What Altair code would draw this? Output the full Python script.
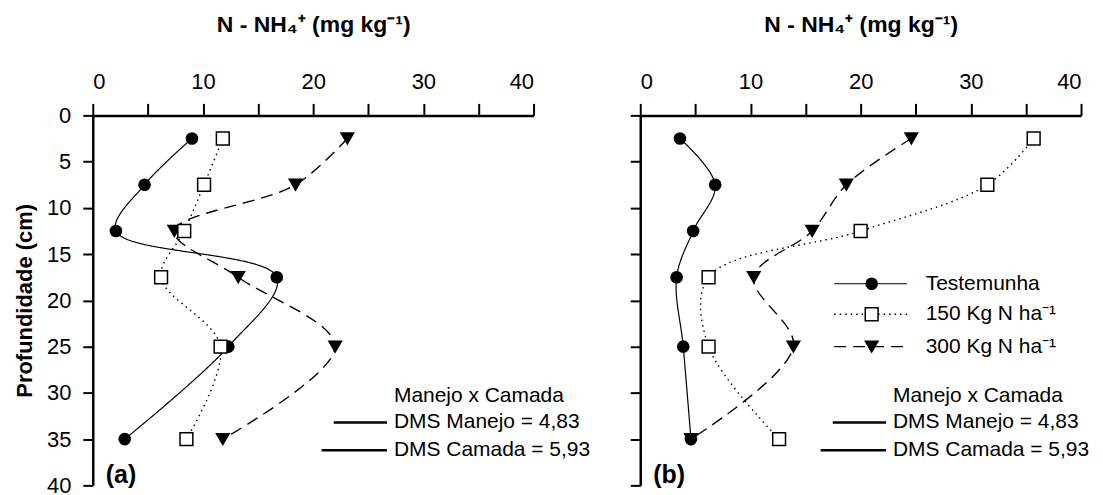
import altair as alt
import pandas as pd

# ---- data ----
depth = [2.5, 7.5, 12.5, 17.5, 25, 35]
series = ["Testemunha", "150 Kg N ha⁻¹", "300 Kg N ha⁻¹"]

a_test = [9.0, 4.7, 2.1, 16.7, 12.3, 2.9]
a_150 = [11.8, 10.1, 8.3, 6.2, 11.6, 8.5]
a_300 = [23.1, 18.4, 7.4, 13.2, 22.0, 11.8]

b_test = [3.6, 6.8, 4.8, 3.3, 3.9, 4.6]
b_150 = [35.7, 31.5, 20.0, 6.2, 6.2, 12.6]
b_300 = [24.6, 18.7, 15.6, 10.3, 13.9, 4.6]

dms_labels = ["DMS Manejo = 4,83", "DMS Camada = 5,93"]
dms_values = [4.83, 5.93]
dms_header = "Manejo x Camada"

x_ticks = [0, 5, 10, 15, 20, 25, 30, 35, 40]
y_ticks = [0, 5, 10, 15, 20, 25, 30, 35, 40]

FONT = "Liberation Sans"
x_title = "N - NH₄⁺ (mg kg⁻¹)"

styles = {
    "Testemunha": dict(dash=[1, 0], width=1.2, shape="circle", filled=True, size=125),
    "150 Kg N ha⁻¹": dict(dash=[1.5, 4], width=1.4, shape="square", filled=False, size=165),
    "300 Kg N ha⁻¹": dict(dash=[12, 7], width=1.4, shape="triangle-down", filled=True, size=160),
}
draw_order = ["300 Kg N ha⁻¹", "Testemunha", "150 Kg N ha⁻¹"]

W = 442
H = 371
TXT = 21


def panel(vals, tag, show_y, with_legend, bar_end):
    xs = alt.X("value:Q", scale=alt.Scale(domain=[0, 40], nice=False, zero=False),
               axis=alt.Axis(orient="top", values=x_ticks, title=x_title,
                             labelExpr="datum.value % 10 == 0 ? datum.label : ''"))
    ys = alt.Y("depth:Q", scale=alt.Scale(domain=[0, 40], reverse=True, nice=False, zero=False),
               axis=alt.Axis(values=y_ticks, labels=show_y,
                             title="Profundidade (cm)" if show_y else None))
    layers = []
    for s in draw_order:
        df = pd.DataFrame({"depth": depth, "value": vals[s]})
        st = styles[s]
        base = alt.Chart(df).encode(x=xs, y=ys)
        layers.append(base.mark_line(interpolate="catmull-rom", color="black",
                                     strokeWidth=st["width"], strokeDash=st["dash"])
                      .encode(order=alt.Order("depth:Q")))
        layers.append(base.mark_point(shape=st["shape"], filled=st["filled"],
                                      fill="black" if st["filled"] else "white",
                                      stroke="black", strokeWidth=1.5, size=st["size"], opacity=1))
    # DMS annotation
    dms_df = pd.DataFrame({"label": dms_labels, "dms": dms_values, "depth": [33.2, 36.2]})
    dms_df["x0"] = bar_end - dms_df["dms"]
    dms_df["x1"] = bar_end
    layers.append(alt.Chart(dms_df).mark_rule(color="black", strokeWidth=2.5).encode(
        x=alt.X("x0:Q", scale=alt.Scale(domain=[0, 40])), x2="x1:Q", y=alt.Y("depth:Q")))
    layers.append(alt.Chart(dms_df).mark_text(align="left", baseline="middle", dx=7,
                                              font=FONT, fontSize=TXT, color="black").encode(
        x="x1:Q", y="depth:Q", text="label:N"))
    hdr = pd.DataFrame({"label": [dms_header], "x": [bar_end], "depth": [30.3]})
    layers.append(alt.Chart(hdr).mark_text(align="left", baseline="middle", dx=7,
                                           font=FONT, fontSize=TXT, color="black").encode(
        x="x:Q", y="depth:Q", text="label:N"))
    # panel tag
    layers.append(alt.Chart(pd.DataFrame({"t": [tag]})).mark_text(
        align="left", baseline="middle", font=FONT, fontSize=25, fontWeight="bold",
        color="black").encode(x=alt.value(13), y=alt.value(361), text="t:N"))
    if with_legend:
        for s, d in zip(series, [18.2, 21.5, 25.0]):
            st = styles[s]
            row = pd.DataFrame({"s": [s], "depth": [d], "x0": [17.6], "x1": [24.2], "xm": [21.0], "xt": [25.9]})
            c = alt.Chart(row)
            layers.append(c.mark_rule(color="black", strokeWidth=st["width"], strokeDash=st["dash"]).encode(
                x="x0:Q", x2="x1:Q", y="depth:Q"))
            layers.append(c.mark_point(shape=st["shape"], filled=st["filled"],
                                       fill="black" if st["filled"] else "white",
                                       stroke="black", strokeWidth=1.5, size=st["size"], opacity=1).encode(
                x="xm:Q", y="depth:Q"))
            layers.append(c.mark_text(align="left", baseline="middle", font=FONT, fontSize=TXT,
                                      color="black").encode(x="xt:Q", y="depth:Q", text="s:N"))
    return alt.layer(*layers).properties(width=W, height=H)


pa = panel({"Testemunha": a_test, "150 Kg N ha⁻¹": a_150, "300 Kg N ha⁻¹": a_300},
           "(a)", True, False, 26.7)
pb = panel({"Testemunha": b_test, "150 Kg N ha⁻¹": b_150, "300 Kg N ha⁻¹": b_300},
           "(b)", False, True, 22.3)

chart = alt.hconcat(pa, pb, spacing=39).configure_view(stroke=None).configure_axis(
    grid=False, domainColor="black", domainWidth=2.5, tickColor="black", tickWidth=2,
    labelFont=FONT, labelFontSize=22, labelColor="black",
    titleFont=FONT, titleFontSize=22, titleFontWeight="bold", titleColor="black",
).configure_axisX(titlePadding=34, tickSize=12, labelPadding=10, titleFontSize=23).configure_axisY(
    titlePadding=10, tickSize=10, labelPadding=12)

chart.save("out.html", embed_options={"renderer": "svg", "actions": False})
